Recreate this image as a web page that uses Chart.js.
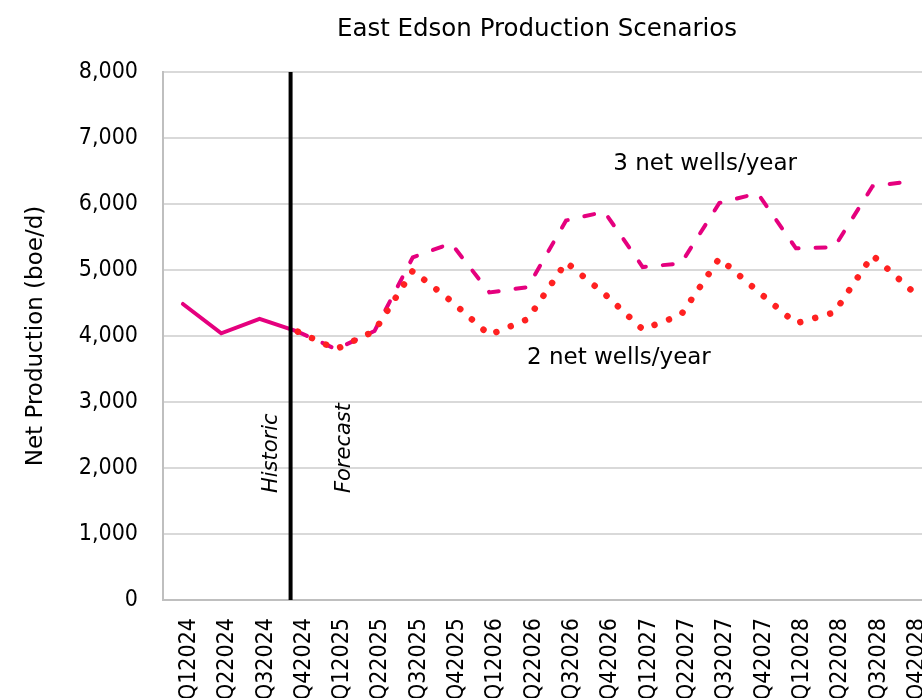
<!DOCTYPE html>
<html>
<head>
<meta charset="utf-8">
<script src="https://cdn.jsdelivr.net/npm/chart.js@4.4.1/dist/chart.umd.min.js"></script>
<style>
  html, body { margin: 0; padding: 0; background: #fff; overflow: hidden; }
  canvas { display: block; }
</style>
</head>
<body>
<canvas id="c" width="922" height="698"></canvas>
<script>
// ---- data ----
const categories = ['Q12024','Q22024','Q32024','Q42024','Q12025','Q22025','Q32025','Q42025',
  'Q12026','Q22026','Q32026','Q42026','Q12027','Q22027','Q32027','Q42027',
  'Q12028','Q22028','Q32028','Q42028'];
const historic = [4485, 4040, 4258, 4065, null, null, null, null, null, null,
  null, null, null, null, null, null, null, null, null, null];
const wells3 = [null, null, null, 4065, 3800, 4075, 5192, 5404, 4660, 4740,
  5750, 5883, 5045, 5100, 6015, 6162, 5329, 5345, 6270, 6344];
const wells2 = [null, null, null, 4065, 3800, 4075, 4990, 4530, 4015, 4256,
  5118, 4640, 4100, 4320, 5177, 4680, 4192, 4356, 5223, 4700];
const yTickValues = [0, 1000, 2000, 3000, 4000, 5000, 6000, 7000, 8000];
const dividerAt = 2.81; // historic / forecast divider, in category units

const FONT = 'DejaVu Sans';
const TICKFONT = '"DejaVu Sans Condensed", "Liberation Sans", sans-serif';

function pts(arr) { return arr.map((v, i) => ({ x: i, y: v })); }

const overlay = {
  id: 'overlay',
  afterDatasetsDraw(chart) {
    const { ctx, chartArea, scales: { x, y } } = chart;
    ctx.save();
    // divider line
    const dx = x.getPixelForValue(dividerAt);
    ctx.strokeStyle = '#000';
    ctx.lineWidth = 4;
    ctx.beginPath();
    ctx.moveTo(dx, chartArea.top);
    ctx.lineTo(dx, chartArea.bottom);
    ctx.stroke();

    ctx.fillStyle = '#000';
    // rotated italic labels
    ctx.font = 'italic 21px ' + FONT;
    ctx.textAlign = 'left';
    ctx.textBaseline = 'middle';
    [['Historic', 2.32], ['Forecast', 4.23]].forEach(([t, xi]) => {
      ctx.save();
      ctx.translate(x.getPixelForValue(xi), y.getPixelForValue(1620));
      ctx.rotate(-Math.PI / 2);
      ctx.fillText(t, 0, 0);
      ctx.restore();
    });

    // scenario annotations
    ctx.font = '23px ' + FONT;
    ctx.textAlign = 'center';
    ctx.fillText('3 net wells/year', x.getPixelForValue(13.63), y.getPixelForValue(6600));
    ctx.fillText('2 net wells/year', x.getPixelForValue(11.38), y.getPixelForValue(3660));

    // chart title
    ctx.font = '24.5px ' + FONT;
    ctx.fillText('East Edson Production Scenarios', 537, 30);
    ctx.restore();
  }
};

new Chart(document.getElementById('c'), {
  type: 'line',
  data: {
    datasets: [
      { label: '2 net wells/year', data: pts(wells2), order: 0,
        borderColor: '#FF2121', borderWidth: 6.5, borderDash: [0.01, 15.5],
        borderCapStyle: 'round', pointRadius: 0, tension: 0, fill: false },
      { label: '3 net wells/year', data: pts(wells3), order: 1,
        borderColor: '#E5007E', borderWidth: 4, borderDash: [10, 17],
        borderCapStyle: 'round', pointRadius: 0, tension: 0, fill: false },
      { label: 'Historic', data: pts(historic), order: 2,
        borderColor: '#E5007E', borderWidth: 4, borderCapStyle: 'round',
        pointRadius: 0, tension: 0, fill: false }
    ]
  },
  options: {
    responsive: false,
    animation: false,
    devicePixelRatio: 1,
    layout: { padding: { left: 18, top: 72, right: 0, bottom: 0 } },
    plugins: { legend: { display: false }, tooltip: { enabled: false }, title: { display: false } },
    scales: {
      x: {
        type: 'linear',
        min: -0.52,
        max: 19.29,
        grid: { display: false },
        border: { display: true, color: '#bfbfbf', width: 2 },
        afterBuildTicks: (s) => { s.ticks = categories.map((c, i) => ({ value: i })); },
        afterFit: (s) => { s.height = 98; s.paddingLeft = 0; s.paddingRight = 0; },
        ticks: {
          autoSkip: false, minRotation: 90, maxRotation: 90, padding: 10, labelOffset: 6,
          color: '#000', font: { family: TICKFONT, size: 23 },
          callback: (v) => categories[v]
        }
      },
      y: {
        min: 0,
        max: 8000,
        afterBuildTicks: (s) => { s.ticks = yTickValues.map(v => ({ value: v })); },
        afterFit: (s) => { s.width = 145; },
        grid: { color: '#d9d9d9', lineWidth: 2, drawTicks: false },
        border: { display: true, color: '#bfbfbf', width: 2 },
        ticks: {
          padding: 25, color: '#000', font: { family: TICKFONT, size: 23 },
          callback: (v) => v.toLocaleString('en-US')
        },
        title: {
          display: true, text: 'Net Production (boe/d)', color: '#000',
          font: { family: FONT, size: 23 }, padding: { top: 4, bottom: 4 }
        }
      }
    }
  },
  plugins: [overlay]
});
</script>
</body>
</html>
